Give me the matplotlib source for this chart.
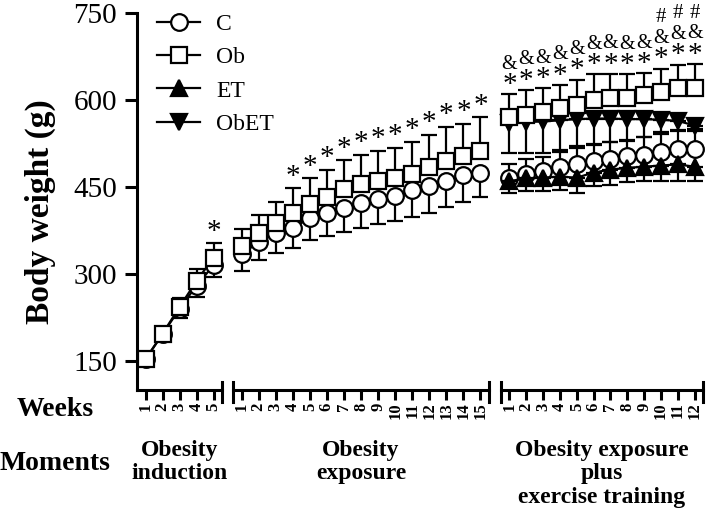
import matplotlib
matplotlib.use("Agg")
import matplotlib.pyplot as plt
import matplotlib.transforms as mtransforms
from matplotlib.lines import Line2D

plt.rcParams["font.family"] = ["Liberation Serif", "DejaVu Serif"]

# --- data (g) ---
# period 1: obesity induction (weeks 1-5)
weeks_1 = [1, 2, 3, 4, 5]
c_1 = [153, 196, 240, 280, 315]
c_1_sd = [5, 10, 15, 20, 20]
ob_1 = [153, 197, 243, 288, 328]
ob_1_sd = [5, 10, 15, 20, 25]
star_1 = [5]

# period 2: obesity exposure (weeks 1-15)
weeks_2 = list(range(1, 16))
c_2 = [334, 355, 370, 380, 396, 406, 414, 422, 429, 435, 444, 452, 461, 470, 475]
c_2_sd = [29, 30, 33, 36, 38, 40, 42, 42, 43, 43, 45, 46, 46, 46, 42]
ob_2 = [348, 370, 388, 405, 420, 433, 446, 455, 460, 465, 473, 485, 494, 503, 512]
ob_2_sd = [30, 32, 36, 43, 45, 47, 50, 50, 52, 53, 55, 55, 60, 56, 58]
star_2 = [4, 5, 6, 7, 8, 9, 10, 11, 12, 13, 14, 15]

# period 3: obesity exposure plus exercise training (weeks 1-12)
weeks_3 = list(range(1, 13))
c_3 = [465, 473, 477, 485, 490, 494, 499, 503, 506, 510, 515, 516]
c_3_sd = [24, 25, 25, 28, 28, 28, 28, 28, 30, 32, 34, 34]
ob_3 = [570, 575, 580, 586, 592, 600, 603, 604, 608, 614, 620, 620]
ob_3_sd = [40, 42, 40, 40, 43, 44, 42, 40, 38, 40, 41, 42]
et_3 = [460, 465, 466, 468, 466, 475, 480, 483, 485, 487, 489, 485]
et_3_sd = [21, 22, 23, 24, 26, 24, 26, 25, 25, 27, 29, 25]
obet_3 = [561, 562, 563, 565, 567, 568, 568, 567, 567, 566, 564, 556]
obet_3_sd = [52, 54, 55, 54, 47, 43, 40, 37, 30, 22, 17, 10]
star_3 = list(range(1, 13))
amp_3 = list(range(1, 13))
hash_3 = [10, 11, 12]

moments = ["Obesity\ninduction", "Obesity\nexposure", "Obesity exposure\nplus\nexercise training"]

LW = 1.6
fig = plt.figure(figsize=(7.09, 5.09), dpi=100)
W, H = 709.0, 509.0
bottom, top = 390, 13
segs = [(137, 222, 5), (233, 489, 15), (501, 703, 12)]
axs = []
for i, (x0, x1, n) in enumerate(segs):
    ax = fig.add_axes([x0 / W, 1 - bottom / H, (x1 - x0) / W, (bottom - top) / H])
    ax.set_xlim(0.5, n + 0.5)
    ax.set_ylim(100, 750)
    for s in ["top", "right"]:
        ax.spines[s].set_visible(False)
    ax.spines["bottom"].set_linewidth(2.2)
    ax.spines["left"].set_linewidth(2.2)
    if i > 0:
        ax.spines["left"].set_visible(False)
        ax.set_yticks([])
    else:
        ax.set_yticks([150, 300, 450, 600, 750])
        ax.tick_params(axis="y", labelsize=21, length=8.5, width=2.2, pad=6)
    ax.set_xticks(range(1, n + 1))
    ax.set_xticklabels([str(k) for k in range(1, n + 1)], rotation=90,
                       fontweight="bold", fontsize=12, va="top")
    ax.tick_params(axis="x", length=7, width=2.2, pad=2)
    ax.patch.set_alpha(0)
    tr = mtransforms.blended_transform_factory(ax.transAxes, ax.transAxes)
    ends = [1] if i == 0 else [0, 1]
    for e in ends:
        ax.add_line(Line2D([e, e], [-0.032, 0.022], transform=tr, color="k",
                           lw=2.2, clip_on=False))
    axs.append(ax)


def series(ax, x, y, sd, up, marker, fill, ms=11, z=3):
    zeros = [0] * len(sd)
    yerr = [zeros, sd] if up else [sd, zeros]
    ax.errorbar(x, y, yerr=yerr, fmt="none", ecolor="k", elinewidth=LW,
                capsize=6, capthick=LW, zorder=z - 1, clip_on=False)
    ax.plot(x, y, color="k", lw=LW, marker=marker, ms=ms, mfc=fill, mec="k",
            mew=LW, zorder=z, clip_on=False)


def marks(ax, weeks, x, y, sd, sym, off, size):
    for w in weeks:
        k = x.index(w)
        ax.text(w, y[k] + sd[k] + off, sym, ha="center", va="center",
                fontsize=size, clip_on=False)


a1, a2, a3 = axs
series(a1, weeks_1, c_1, c_1_sd, False, "o", "white", ms=12)
series(a1, weeks_1, ob_1, ob_1_sd, True, "s", "white", z=4)
marks(a1, star_1, weeks_1, ob_1, ob_1_sd, "*", 20, 21)

series(a2, weeks_2, c_2, c_2_sd, False, "o", "white", ms=12)
series(a2, weeks_2, ob_2, ob_2_sd, True, "s", "white", z=4)
marks(a2, star_2, weeks_2, ob_2, ob_2_sd, "*", 20, 21)

series(a3, weeks_3, obet_3, obet_3_sd, False, "v", "black", z=3)
series(a3, weeks_3, ob_3, ob_3_sd, True, "s", "white", z=5)
series(a3, weeks_3, c_3, c_3_sd, True, "o", "white", ms=12, z=6)
series(a3, weeks_3, et_3, et_3_sd, False, "^", "black", z=7)
marks(a3, star_3, weeks_3, ob_3, ob_3_sd, "*", 16, 21)
marks(a3, amp_3, weeks_3, ob_3, ob_3_sd, "&", 52, 14.5)
marks(a3, hash_3, weeks_3, ob_3, ob_3_sd, "#", 88, 15)

handles = [
    Line2D([], [], color="k", lw=LW, marker="o", ms=12, mfc="white", mew=LW),
    Line2D([], [], color="k", lw=LW, marker="s", ms=11, mfc="white", mew=LW),
    Line2D([], [], color="k", lw=LW, marker="^", ms=11, mfc="black", mew=LW),
    Line2D([], [], color="k", lw=LW, marker="v", ms=11, mfc="black", mew=LW),
]
fig.legend(handles, ["C", "Ob", "ET", "ObET"], loc="upper left",
           bbox_to_anchor=(148 / W, 1 - 4 / H), frameon=False, fontsize=17,
           handlelength=1.8, handletextpad=0.7, labelspacing=0.5, borderaxespad=0)

fig.text(40 / W, 1 - 212 / H, "Body weight (g)", rotation=90, ha="center",
         va="center", fontsize=24, fontweight="bold")
fig.text(55 / W, 1 - 410 / H, "Weeks", ha="center", va="center", fontsize=20,
         fontweight="bold")
fig.text(55 / W, 1 - 463 / H, "Moments", ha="center", va="center", fontsize=20,
         fontweight="bold")
for (x0, x1, n), lab in zip(segs, moments):
    fig.text((x0 + x1) / 2 / W, 1 - 440 / H, lab, ha="center", va="top",
             fontsize=17, fontweight="bold", linespacing=1.15)

fig.savefig("out.png", dpi=100)
